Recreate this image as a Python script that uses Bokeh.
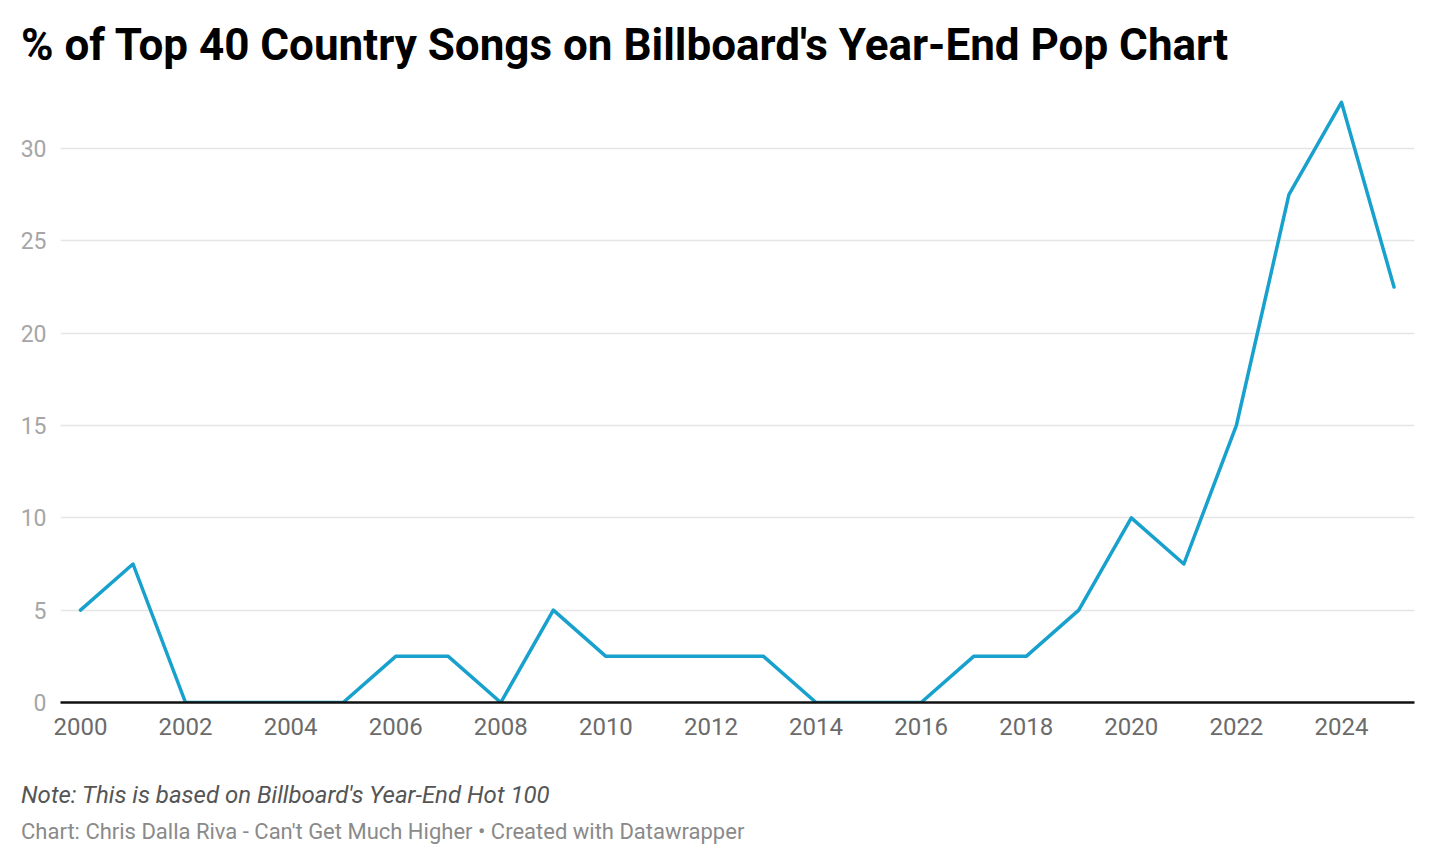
from bokeh.plotting import figure
from bokeh.models import Range1d, FixedTicker, ColumnDataSource, Div
from bokeh.layouts import column
from bokeh.embed import file_html
from bokeh.resources import INLINE

years = list(range(2000, 2026))
share = [5, 7.5, 0, 0, 0, 0, 2.5, 2.5, 0, 5, 2.5, 2.5, 2.5, 2.5, 0, 0, 0,
         2.5, 2.5, 5, 10, 7.5, 15, 27.5, 32.5, 22.5]
y_ticks = [0, 5, 10, 15, 20, 25, 30]
x_ticks = list(range(2000, 2026, 2))

title_text = "% of Top 40 Country Songs on Billboard's Year-End Pop Chart"
note_text = "Note: This is based on Billboard's Year-End Hot 100"
credit_text = "Chart: Chris Dalla Riva - Can't Get Much Higher \u2022 Created with Datawrapper"

FONT = "Roboto"
W = 1434


def text_div(txt, height, size, weight, style, color, pad_top, pad_left):
    html = (f'<div style="font-family:{FONT};font-size:{size}px;line-height:{size}px;'
            f'font-weight:{weight};font-style:{style};color:{color};'
            f'padding:{pad_top}px 0 0 {pad_left}px;white-space:nowrap;margin:0">{txt}</div>')
    return Div(text=html, width=W, height=height, margin=(0, 0, 0, 0))


title_div = text_div(title_text, 82, 44, 700, "normal", "#000000", 23, 21)

p = figure(width=W, height=678, output_backend="svg", toolbar_location=None,
           x_range=Range1d(1999.62, 2025.39), y_range=Range1d(0, 33.14),
           min_border_left=60, min_border_right=20, min_border_top=8,
           min_border_bottom=58, margin=(0, 0, 0, 0))
p.outline_line_color = None
p.background_fill_color = "white"
p.border_fill_color = "white"

src = ColumnDataSource(dict(x=years, y=share))
p.line("x", "y", source=src, line_color="#18a1cd", line_width=3.5,
       line_join="round", line_cap="round")

p.xaxis.ticker = FixedTicker(ticks=x_ticks)
p.yaxis.ticker = FixedTicker(ticks=y_ticks)
p.xaxis.axis_line_color = "#111111"
p.xaxis.axis_line_width = 2.5
p.xaxis.major_tick_line_color = None
p.xaxis.minor_tick_line_color = None
p.xaxis.major_label_text_font = FONT
p.xaxis.major_label_text_font_size = "24px"
p.xaxis.major_label_text_color = "#6b6b6b"
p.xaxis.major_label_standoff = 9

p.yaxis.axis_line_color = None
p.yaxis.major_tick_line_color = None
p.yaxis.minor_tick_line_color = None
p.yaxis.major_label_text_font = FONT
p.yaxis.major_label_text_font_size = "23px"
p.yaxis.major_label_text_color = "#a6a6a6"
p.yaxis.major_label_standoff = 8

p.xgrid.grid_line_color = None
p.ygrid.grid_line_color = "#e5e5e5"
p.ygrid.grid_line_width = 1.5

note_div = text_div(note_text, 52, 24, 400, "italic", "#555555", 23, 21)
credit_div = text_div(credit_text, 54, 22, 400, "normal", "#8a8a8a", 9, 21)

layout = column(title_div, p, note_div, credit_div, spacing=0, margin=(0, 0, 0, 0))

open("out.html", "w").write(file_html(layout, INLINE))
